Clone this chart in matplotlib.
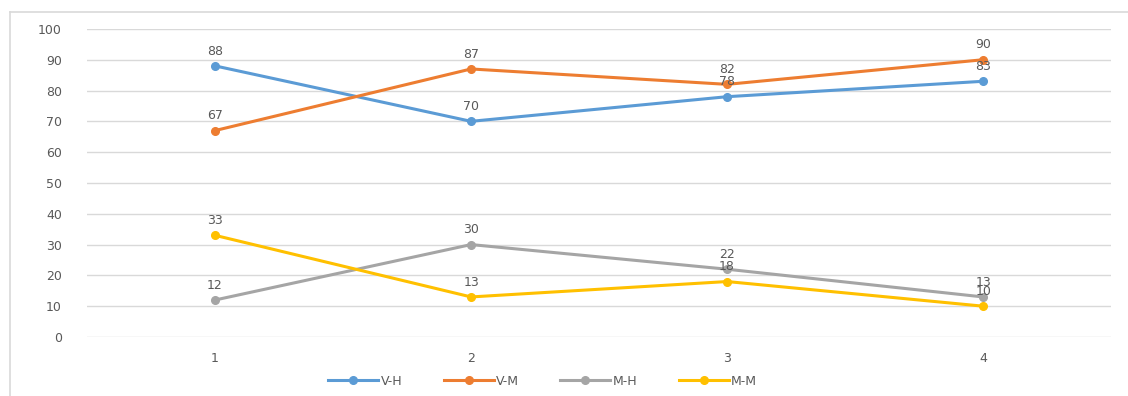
#import library
import matplotlib.pyplot as plt

#define datasets
groups = ["1", "2", "3", "4"]
series_names = ["V-H", "V-M", "M-H", "M-M"]
v_h = [88, 70, 78, 83]
v_m = [67, 87, 82, 90]
m_h = [12, 30, 22, 13]
m_m = [33, 13, 18, 10]
colors = ["#5B9BD5", "#ED7D31", "#A5A5A5", "#FFC000"]

#define fig and plot area
fig = plt.figure(figsize=(11.28, 3.96), dpi=100)
ax = fig.add_axes([0.0771, 0.149, 0.908, 0.778])

#frame of the chart area
fig.add_artist(plt.Line2D([0.009, 0.009], [0.0, 0.97], color="#D9D9D9", lw=1.2))
fig.add_artist(plt.Line2D([0.009, 1.0], [0.97, 0.97], color="#D9D9D9", lw=1.2))

x = list(range(len(groups)))
for name, vals, c in zip(series_names, [v_h, v_m, m_h, m_m], colors):
    ax.plot(x, vals, color=c, lw=2.2, marker="o", markersize=5.5, label=name)
    for xi, v in zip(x, vals):
        ax.annotate(str(v), (xi, v), xytext=(0, 6), textcoords="offset points",
                    ha="center", va="bottom", fontsize=9, color="#595959")

#axes
ax.set_xlim(-0.5, len(groups) - 0.5)
ax.set_ylim(0, 100)
ax.set_yticks(range(0, 101, 10))
ax.set_xticks(x)
ax.set_xticklabels(groups)
ax.grid(True, axis="y", color="#D9D9D9", lw=1)
ax.set_axisbelow(True)
for s in ax.spines.values():
    s.set_visible(False)
ax.tick_params(length=0, labelsize=9, colors="#595959")
ax.tick_params(axis="y", pad=18)
ax.tick_params(axis="x", pad=11)

#legend
ax.legend(loc="center", bbox_to_anchor=(0.445, -0.143), ncol=4, frameon=False,
          fontsize=9, labelcolor="#595959", handlelength=4.0, columnspacing=3.3,
          handletextpad=0.2)

fig.savefig("out.png", dpi=100)
